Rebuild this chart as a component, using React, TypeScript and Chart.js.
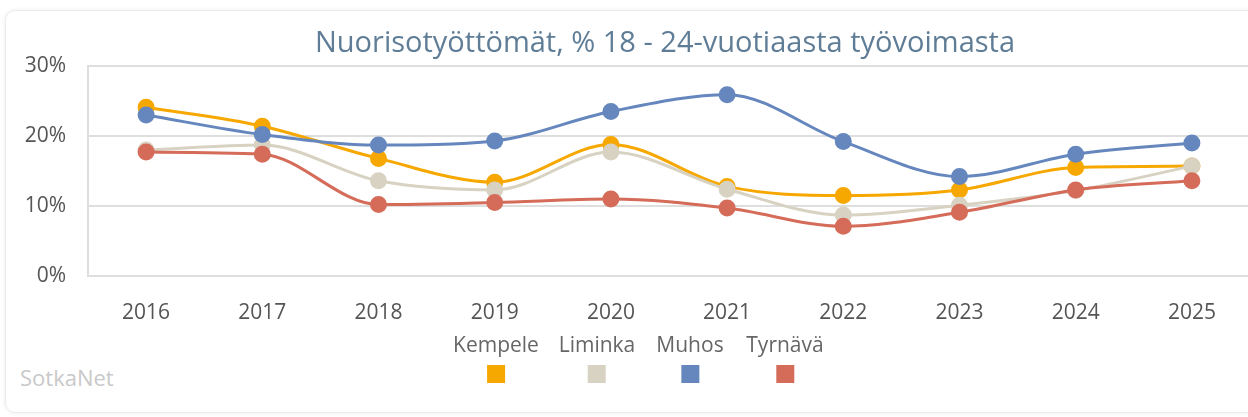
import React, { useEffect, useRef } from "react";
import { Chart, registerables } from "chart.js";

Chart.register(...registerables);

const title = "Nuorisotyöttömät, % 18 - 24-vuotiaasta työvoimasta";
const years = ["2016", "2017", "2018", "2019", "2020", "2021", "2022", "2023", "2024", "2025"];
const seriesNames = ["Kempele", "Liminka", "Muhos", "Tyrnävä"];
const seriesColors = ["#F7A800", "#D8D2C2", "#6587BE", "#D56B59"];
const kempele = [24.1, 21.4, 16.8, 13.4, 18.8, 12.8, 11.5, 12.3, 15.5, 15.7];
const liminka = [18.0, 18.7, 13.6, 12.3, 17.7, 12.4, 8.7, 10.1, 12.2, 15.7];
const muhos = [23.0, 20.2, 18.7, 19.3, 23.5, 25.9, 19.2, 14.2, 17.4, 19.0];
const tyrnava = [17.7, 17.4, 10.2, 10.5, 11.0, 9.7, 7.1, 9.1, 12.3, 13.6];
const seriesValues = [kempele, liminka, muhos, tyrnava];
const yTicks = [0, 10, 20, 30];
const sourceLabel = "SotkaNet";

const FONT = "'Open Sans', sans-serif";

export default function App() {
  const canvasRef = useRef<HTMLCanvasElement | null>(null);

  useEffect(() => {
    document.body.style.margin = "0";
    document.body.style.overflow = "hidden";
    const canvas = canvasRef.current;
    if (!canvas) return;
    const chart = new Chart(canvas, {
      type: "line",
      data: {
        labels: years,
        datasets: seriesNames.map((name, i) => ({
          label: name,
          data: seriesValues[i],
          borderColor: seriesColors[i],
          backgroundColor: seriesColors[i],
          pointBackgroundColor: seriesColors[i],
          pointBorderColor: seriesColors[i],
          pointRadius: 7,
          pointHoverRadius: 7,
          borderWidth: 3,
          cubicInterpolationMode: "monotone" as const,
          fill: false,
          order: 3 - i,
        })),
      },
      options: {
        responsive: false,
        animation: false,
        events: [],
        layout: { padding: { top: 66, left: 0, right: 9, bottom: 0 } },
        plugins: {
          legend: { display: false },
          title: { display: false },
          tooltip: { enabled: false },
        },
        scales: {
          x: {
            offset: true,
            grid: { display: false, drawTicks: false },
            border: { display: false },
            ticks: {
              color: "#555",
              font: { family: FONT, size: 21 },
              padding: 24,
              maxRotation: 0,
            },
            afterFit: (scale: any) => {
              scale.height = 64;
            },
          },
          y: {
            min: 0,
            max: 30,
            afterBuildTicks: (scale: any) => {
              scale.ticks = yTicks.map((v) => ({ value: v }));
            },
            grid: { color: "#dedede", lineWidth: 2, drawTicks: false },
            border: { display: true, color: "#dedede", width: 2 },
            ticks: {
              color: "#555",
              font: { family: FONT, size: 21 },
              padding: 22,
              callback: (v: any) => v + "%",
            },
            afterFit: (scale: any) => {
              scale.width = 88;
            },
          },
        },
      },
    });
    return () => chart.destroy();
  }, []);

  return (
    <div style={{ position: "relative", width: 1248, height: 417, overflow: "hidden", background: "#fff", fontFamily: FONT }}>
      <div
        style={{
          position: "absolute",
          left: 5,
          top: 10,
          width: 1300,
          height: 403,
          borderRadius: 10,
          border: "1px solid #ececec",
          boxShadow: "0 0 4px rgba(0,0,0,0.08)",
          boxSizing: "border-box",
        }}
      />
      <canvas ref={canvasRef} width={1260} height={340} style={{ position: "absolute", left: 0, top: 0 }} />
      <div
        style={{
          position: "absolute",
          left: 665,
          top: 40,
          transform: "translate(-50%, -50%)",
          whiteSpace: "nowrap",
          fontSize: 29,
          color: "#5f7d96",
          lineHeight: 1,
        }}
      >
        {title}
      </div>
      {seriesNames.map((name, i) => (
        <div
          key={name}
          style={{
            position: "absolute",
            left: [496, 597, 690, 785][i],
            top: 331,
            transform: "translateX(-50%)",
            display: "flex",
            flexDirection: "column",
            alignItems: "center",
          }}
        >
          <div style={{ fontSize: 21, color: "#666", lineHeight: "26px", whiteSpace: "nowrap" }}>{name}</div>
          <div style={{ width: 18, height: 18, background: seriesColors[i], marginTop: 8 }} />
        </div>
      ))}
      <div style={{ position: "absolute", left: 20, top: 363, fontSize: 22, color: "#c9c9c9", lineHeight: "28px" }}>
        {sourceLabel}
      </div>
    </div>
  );
}
